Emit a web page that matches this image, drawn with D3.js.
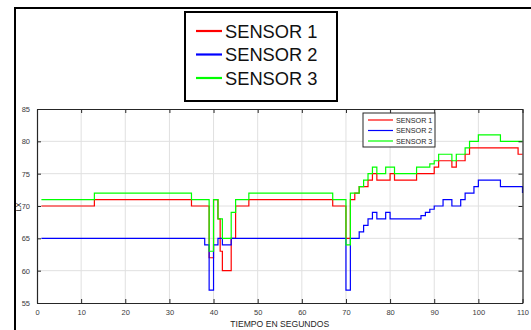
<!DOCTYPE html>
<html>
<head>
<meta charset="utf-8">
<script src="https://cdn.jsdelivr.net/npm/d3@7"></script>
<style>
  html, body { margin: 0; padding: 0; background: #fff; }
  svg { display: block; font-family: "Liberation Sans", Arial, sans-serif; }
</style>
</head>
<body>
<svg id="chart" width="531" height="330"></svg>
<script>
// Sensor readings (lux) sampled over time in seconds
const sensorNames = ["SENSOR 1", "SENSOR 2", "SENSOR 3"];
const sensorColors = ["#ff0000", "#0000ff", "#00ff00"];

const sensor1Time = [1, 13, 35, 39, 40, 41, 41.5, 42, 44, 45, 48, 67, 70, 71, 72, 73, 75, 76, 77, 80, 81, 86, 90, 91, 94, 95, 97, 98, 109, 110];
const sensor1Lux  = [70, 71, 70, 62, 71, 68, 63, 60, 65, 70, 71, 70, 65, 71, 72, 73, 74, 75, 74, 75, 74, 75, 76, 77, 76, 77, 78, 79, 78, 78];

const sensor2Time = [1, 38, 39, 40, 41, 42, 44, 70, 71, 73, 74, 75, 76, 77, 79, 80, 87, 88, 89, 90, 92, 94, 96, 97, 99, 100, 105, 110];
const sensor2Lux  = [65, 64, 57, 64, 65, 64, 65, 57, 65, 66, 67, 68, 69, 68, 69, 68, 68.5, 69, 69.5, 70, 71, 70, 71, 72, 73, 74, 73, 72];

const sensor3Time = [1, 13, 35, 39, 40, 41, 42, 44, 45, 48, 67, 70, 71, 73, 74, 75, 76, 77, 79, 81, 86, 89, 90, 91, 94, 95, 97, 98, 100, 105, 110];
const sensor3Lux  = [71, 72, 71, 63, 71, 68, 65, 69, 71, 72, 71, 64, 72, 73, 74, 75, 76, 75, 76, 75, 76, 76.5, 77, 78, 77, 78, 79, 80, 81, 80, 80];

const xTicks = [0, 10, 20, 30, 40, 50, 60, 70, 80, 90, 100, 110];
const yTicks = [55, 60, 65, 70, 75, 80, 85];
const xTitle = "TIEMPO EN SEGUNDOS";
const yTitle = "LX";

const series = [
  { name: sensorNames[0], color: sensorColors[0], pts: sensor1Time.map((t, i) => [t, sensor1Lux[i]]) },
  { name: sensorNames[1], color: sensorColors[1], pts: sensor2Time.map((t, i) => [t, sensor2Lux[i]]) },
  { name: sensorNames[2], color: sensorColors[2], pts: sensor3Time.map((t, i) => [t, sensor3Lux[i]]) }
];

const svg = d3.select("#chart");
const plot = { left: 37, right: 522.5, top: 109, bottom: 303 };

const x = d3.scaleLinear().domain([0, 110]).range([plot.left, plot.right]);
const y = d3.scaleLinear().domain([55, 85]).range([plot.bottom, plot.top]);

// Outer figure border (top and left edges)
svg.append("path")
  .attr("d", "M15,330 L15,8 L531,8")
  .attr("fill", "none").attr("stroke", "#000").attr("stroke-width", 2);

// Grid lines
const grid = svg.append("g").attr("stroke", "#e0e0e0").attr("stroke-width", 1);
xTicks.slice(1, -1).forEach(t => {
  grid.append("line").attr("x1", x(t)).attr("x2", x(t)).attr("y1", plot.top).attr("y2", plot.bottom);
});
yTicks.slice(1, -1).forEach(v => {
  grid.append("line").attr("x1", plot.left).attr("x2", plot.right).attr("y1", y(v)).attr("y2", y(v));
});

// Data lines
const line = d3.line().x(d => x(d[0])).y(d => y(d[1])).curve(d3.curveStepAfter);
series.forEach(s => {
  svg.append("path")
    .datum(s.pts)
    .attr("d", line)
    .attr("fill", "none")
    .attr("stroke", s.color)
    .attr("stroke-width", 1.2);
});

// Axes with inward ticks, box style
const tickColor = "#262626";
const axisB = svg.append("g").attr("transform", `translate(0,${plot.bottom})`)
  .call(d3.axisBottom(x).tickValues(xTicks).tickSize(-4).tickSizeOuter(0).tickPadding(7).tickFormat(d3.format("d")));
const axisT = svg.append("g").attr("transform", `translate(0,${plot.top})`)
  .call(d3.axisTop(x).tickValues(xTicks).tickSize(-4).tickSizeOuter(0).tickFormat(""));
const axisL = svg.append("g").attr("transform", `translate(${plot.left},0)`)
  .call(d3.axisLeft(y).tickValues(yTicks).tickSize(-4).tickSizeOuter(0).tickPadding(7).tickFormat(d3.format("d")));
const axisR = svg.append("g").attr("transform", `translate(${plot.right},0)`)
  .call(d3.axisRight(y).tickValues(yTicks).tickSize(-4).tickSizeOuter(0).tickFormat(""));

[axisB, axisT, axisL, axisR].forEach(a => {
  a.select(".domain").attr("stroke", tickColor).attr("stroke-width", 1.2);
  a.selectAll(".tick line").attr("stroke", tickColor).attr("stroke-width", 1);
  a.selectAll("text").attr("fill", "#3a3a3a").style("font-size", "7.5px")
    .style("font-family", "'Liberation Sans', Arial, sans-serif");
});

// Axis titles
svg.append("text")
  .attr("x", (plot.left + plot.right) / 2).attr("y", 326.5)
  .attr("text-anchor", "middle").attr("fill", "#262626")
  .style("font-size", "8.6px").text(xTitle);
svg.append("text")
  .attr("transform", `translate(21,207) rotate(-90)`)
  .attr("text-anchor", "middle").attr("fill", "#262626")
  .style("font-size", "7.5px").text(yTitle);

// Inner legend
const lg = svg.append("g").attr("transform", "translate(363,113)");
lg.append("rect").attr("width", 72).attr("height", 34).attr("fill", "#fff")
  .attr("stroke", "#262626").attr("stroke-width", 1);
series.forEach((s, i) => {
  const yy = 7 + i * 10.5;
  lg.append("line").attr("x1", 5).attr("x2", 30).attr("y1", yy).attr("y2", yy)
    .attr("stroke", s.color).attr("stroke-width", 1.2);
  lg.append("text").attr("x", 33).attr("y", yy + 2.5).attr("fill", "#262626")
    .style("font-size", "7.2px").text(s.name);
});

// Large legend above the plot
const LG = svg.append("g").attr("transform", "translate(185,12)");
LG.append("rect").attr("width", 152).attr("height", 89).attr("fill", "#fff")
  .attr("stroke", "#000").attr("stroke-width", 2);
series.forEach((s, i) => {
  const yy = 19 + i * 23.5;
  LG.append("line").attr("x1", 11).attr("x2", 37).attr("y1", yy).attr("y2", yy)
    .attr("stroke", s.color).attr("stroke-width", 2.2);
  LG.append("text").attr("x", 40).attr("y", yy + 6.5).attr("fill", "#111")
    .style("font-size", "18.3px").text(s.name);
});
</script>
</body>
</html>
